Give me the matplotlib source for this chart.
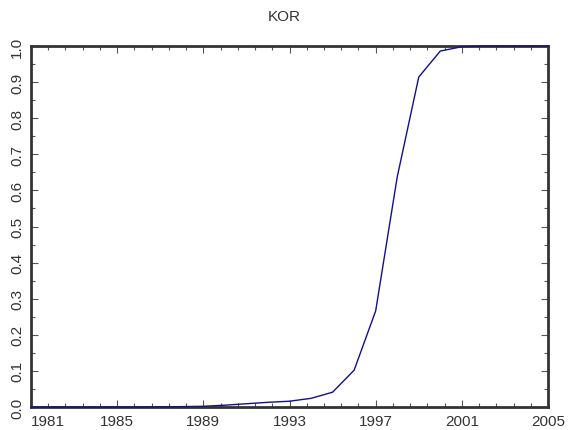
import matplotlib
matplotlib.use("Agg")
import matplotlib.pyplot as plt
from matplotlib.ticker import AutoMinorLocator

plt.rcParams['font.family'] = ['Liberation Sans', 'DejaVu Sans']

title = "KOR"
years = list(range(1981, 2006))
values = [0.0, 0.0, 0.0, 0.0, 0.0, 0.0, 0.0005, 0.001, 0.002, 0.005,
          0.009, 0.013, 0.016, 0.024, 0.041, 0.102, 0.266, 0.637, 0.914, 0.986,
          0.998, 1.0, 1.0, 1.0, 1.0]
xticks = [1981, 1985, 1989, 1993, 1997, 2001, 2005]
yticks = [0.0, 0.1, 0.2, 0.3, 0.4, 0.5, 0.6, 0.7, 0.8, 0.9, 1.0]

fig = plt.figure(figsize=(5.7, 4.31), dpi=100)
ax = fig.add_axes([31/570, 23/431, 517/570, 361/431])
ax.plot(years, values, color="#101090", lw=1.0, clip_on=False, zorder=5)
ax.set_xlim(1981, 2005)
ax.set_ylim(0, 1)
ax.set_xticks(xticks)
ax.set_yticks(yticks)
ax.set_xticklabels([str(x) for x in xticks])
ax.set_yticklabels([f"{y:.1f}" for y in yticks], rotation=90, va="center")
ax.xaxis.set_minor_locator(AutoMinorLocator(5))
ax.yaxis.set_minor_locator(AutoMinorLocator(2))
ax.tick_params(which="both", direction="in", top=True, right=True, color="#555555",
               labelsize=11, labelcolor="#333333")
ax.tick_params(which="major", length=5, width=0.8)
ax.tick_params(which="minor", length=3, width=0.8)
ax.tick_params(axis="x", pad=5)
ax.tick_params(axis="y", pad=5)
labs = ax.get_xticklabels()
labs[0].set_horizontalalignment("left")
for s in ax.spines.values():
    s.set_linewidth(2)
    s.set_color("#333333")
fig.text(284/570, 1 - 17/431, title, ha="center", va="center", fontsize=11, color="#333333")
fig.savefig("out.png", dpi=100)
